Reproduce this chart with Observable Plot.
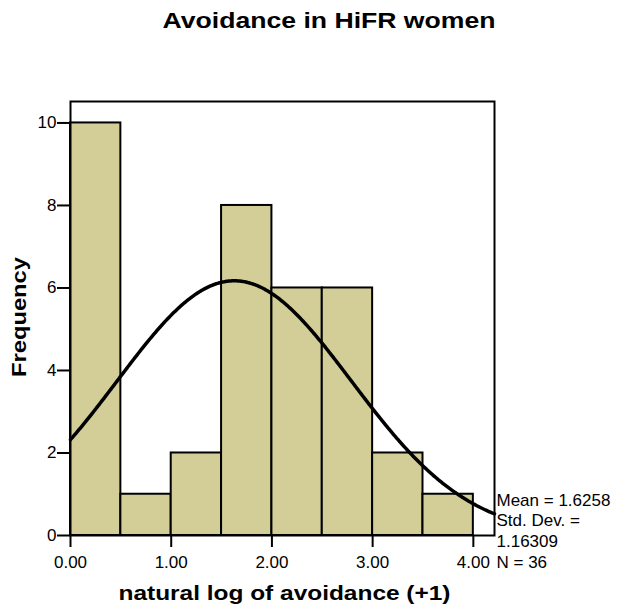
<!DOCTYPE html>
<html>
<head>
<meta charset="utf-8">
<script src="https://cdn.jsdelivr.net/npm/d3@7"></script>
<script src="https://cdn.jsdelivr.net/npm/@observablehq/plot@0.6"></script>
<style>
  html, body { margin: 0; padding: 0; background: #fff; }
  svg { font-family: "Liberation Sans", Arial, sans-serif; }
</style>
</head>
<body>
<div id="chart"></div>
<script>
// Histogram of ln(avoidance + 1), bins of width 0.5
const binStarts = [0.0, 0.5, 1.0, 1.5, 2.0, 2.5, 3.0, 3.5];
const counts = [10, 1, 2, 8, 6, 6, 2, 1];
const binWidth = 0.5;

// Summary statistics shown beside the plot
const mean = 1.6258;
const stdDev = 1.16309;
const n = 36;
const statLines = ["Mean = 1.6258", "Std. Dev. =", "1.16309", "N = 36"];

const xTicks = [0, 1, 2, 3, 4];
const yTicks = [0, 2, 4, 6, 8, 10];

const titleText = "Avoidance in HiFR women";
const xLabel = "natural log of avoidance (+1)";
const yLabel = "Frequency";

const bins = binStarts.map((x0, i) => ({x1: x0, x2: x0 + binWidth, count: counts[i]}));

// Fitted normal curve scaled to counts: N * binWidth * pdf(x)
const xMax = 4.21;
const curve = d3.range(0, xMax + 1e-9, 0.01).map(x => ({
  x,
  y: n * binWidth / (stdDev * Math.sqrt(2 * Math.PI)) *
     Math.exp(-0.5 * ((x - mean) / stdDev) ** 2)
}));

// one text mark per statistics line, stacked around the frame's bottom edge
const statMarks = statLines.map((line, i) => Plot.text([line], {
  frameAnchor: "bottom-right",
  textAnchor: "start",
  dx: 2,
  dy: -30 + i * 20.7,
  fontSize: 17,
  fill: "#000"
}));

const chart = Plot.plot({
  width: 618,
  height: 609,
  marginLeft: 70,
  marginRight: 124,
  marginTop: 101,
  marginBottom: 74,
  style: {fontFamily: "'Liberation Sans', Arial, sans-serif", fontSize: "17px", color: "#000", background: "#fff"},
  x: {domain: [0, xMax], ticks: xTicks, tickFormat: d3.format(".2f"), label: null},
  y: {domain: [0, 10.52], ticks: yTicks, label: null},
  marks: [
    Plot.rectY(bins, {x1: "x1", x2: "x2", y: "count", fill: "#d3ce97", stroke: "#000", strokeWidth: 2}),
    Plot.line(curve, {x: "x", y: "y", stroke: "#000", strokeWidth: 3.5, curve: "basis"}),
    Plot.frame({stroke: "#000", strokeWidth: 2}),
    Plot.axisX({ticks: xTicks, tickFormat: d3.format(".2f"), tickSize: 12, tickPadding: 8, strokeWidth: 2, fontSize: 17, label: null}),
    Plot.axisY({ticks: yTicks, tickSize: 13, tickPadding: 1, strokeWidth: 2, fontSize: 17, label: null}),
    ...statMarks,
    // title
    Plot.text([titleText], {
      frameAnchor: "top-left", dx: 258.5, dy: -89,
      fontSize: 22, fontWeight: "bold", textAnchor: "middle", fill: "#000"
    }),
    // x-axis title
    Plot.text([xLabel], {
      frameAnchor: "bottom-left", dx: 214, dy: 64,
      fontSize: 21, fontWeight: "bold", textAnchor: "middle", fill: "#000"
    }),
    // y-axis title
    Plot.text([yLabel], {
      frameAnchor: "left", dx: -51, dy: -1.5,
      fontSize: 21, fontWeight: "bold", textAnchor: "middle", rotate: -90, fill: "#000"
    })
  ]
});

// stretch the titles to their drawn length
const widths = {[titleText]: 333, [xLabel]: 332, [yLabel]: 120};
d3.select(chart).selectAll("text").each(function () {
  const w = widths[this.textContent];
  if (w) d3.select(this).attr("textLength", w).attr("lengthAdjust", "spacingAndGlyphs");
});

document.getElementById("chart").append(chart);
</script>
</body>
</html>
